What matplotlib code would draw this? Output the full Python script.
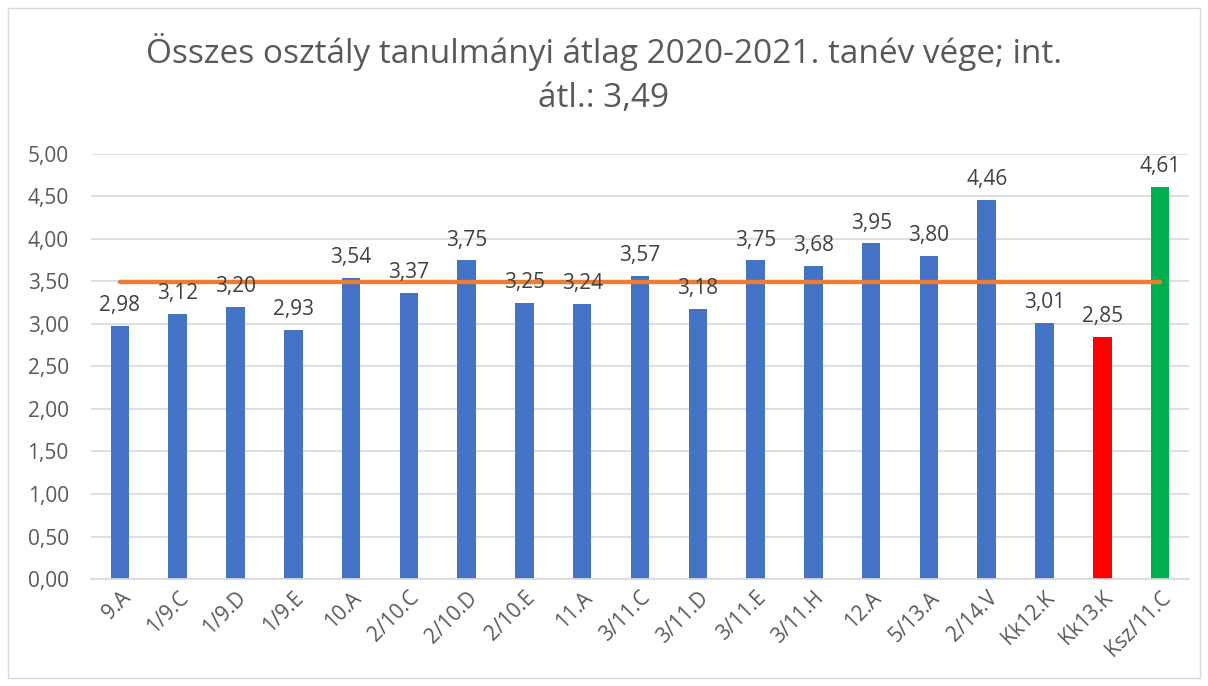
import numpy as np
import matplotlib.pyplot as plt
from matplotlib.patches import Rectangle

classes = ['9.A', '1/9.C', '1/9.D', '1/9.E', '10.A', '2/10.C', '2/10.D', '2/10.E',
           '11.A', '3/11.C', '3/11.D', '3/11.E', '3/11.H', '12.A', '5/13.A', '2/14.V',
           'Kk12.K', 'Kk13.K', 'Ksz/11.C']
averages = [2.98, 3.12, 3.20, 2.93, 3.54, 3.37, 3.75, 3.25, 3.24, 3.57, 3.18,
            3.75, 3.68, 3.95, 3.80, 4.46, 3.01, 2.85, 4.61]
school_avg = 3.49

plt.rcParams['font.family'] = ['Open Sans', 'DejaVu Sans']

colors = ['#4472C4'] * len(classes)
colors[averages.index(min(averages))] = '#FF0000'
colors[averages.index(max(averages))] = '#00B050'

fig = plt.figure(figsize=(12.08, 6.86), dpi=100)
ax = fig.add_axes([91/1208, 1-579/686, (1189-91)/1208, (579-154)/686])

x = np.arange(len(classes))
ax.bar(x, averages, width=0.32, color=colors, zorder=2)
ax.plot([x[0], x[-1]], [school_avg, school_avg], color='#ED7D31', lw=3.2,
        solid_capstyle='round', zorder=3)

for xi, v in zip(x, averages):
    ax.annotate(f'{v:.2f}'.replace('.', ','), (xi, v), xytext=(0, 7),
                textcoords='offset points', ha='center', va='bottom',
                fontsize=15, color='#404040', zorder=4)

ax.set_xlim(-0.5, len(classes) - 0.5)
ax.set_ylim(0, 5)
ax.set_yticks(np.arange(0, 5.01, 0.5))
ax.set_yticklabels([f'{t:.2f}'.replace('.', ',') for t in np.arange(0, 5.01, 0.5)])
ax.set_xticks(x)
ax.set_xticklabels(classes, rotation=45, ha='right', rotation_mode='anchor')
ax.tick_params(axis='both', length=0, labelsize=15, labelcolor='#595959')
ax.tick_params(axis='x', pad=6)
ax.tick_params(axis='y', pad=16)
ax.grid(axis='y', color='#D9D9D9', lw=1.2, zorder=0)
for s in ['top', 'right', 'left']:
    ax.spines[s].set_visible(False)
ax.spines['bottom'].set_color('#D9D9D9')
ax.spines['bottom'].set_linewidth(1.2)

fig.text(0.5, 1 - 74/686, 'Összes osztály tanulmányi átlag 2020-2021. tanév vége; int.\nátl.: 3,49',
         ha='center', va='center', fontsize=24, color='#595959', linespacing=1.45)

fig.patches.append(Rectangle((8/1208, 8/686), 1192/1208, 670/686, transform=fig.transFigure,
                             fill=False, edgecolor='#D9D9D9', lw=1))

fig.savefig('out.png', dpi=100)
